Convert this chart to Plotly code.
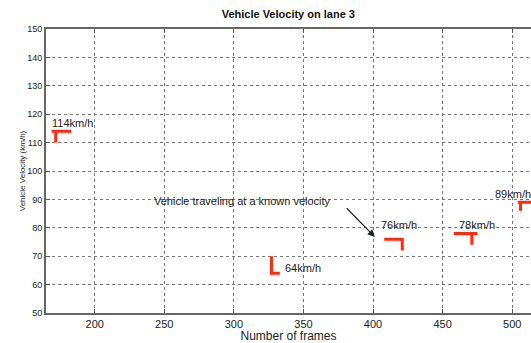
import plotly.graph_objects as go

# Data: frame numbers and measured velocity (km/h) for each detected vehicle
seg1_frames = [169, 172, 172, 172, 183]
seg1_vel = [114, 114, 110, 114, 114]
seg2_frames = [327, 327, 333]
seg2_vel = [70, 64, 64]
seg3_frames = [408, 421, 421]
seg3_vel = [76, 76, 72]
seg4_frames = [458, 471, 471, 471, 475]
seg4_vel = [78, 78, 74, 78, 78]
seg5_frames = [504, 506, 506, 506, 514]
seg5_vel = [89, 89, 86, 89, 89]

label_texts = ["114km/h", "64km/h", "76km/h", "78km/h", "89km/h"]
label_frames = [168, 335.5, 404, 460, 486]
label_vel = [116.8, 65.7, 80.9, 81.1, 92]

x_ticks = [200, 250, 300, 350, 400, 450, 500]
y_ticks = [50, 60, 70, 80, 90, 100, 110, 120, 130, 140, 150]

FONT = "Liberation Sans, Arial, sans-serif"
RED = "#ff2a10"

fig = go.Figure()
for fr, v in [(seg1_frames, seg1_vel), (seg2_frames, seg2_vel), (seg3_frames, seg3_vel),
              (seg4_frames, seg4_vel), (seg5_frames, seg5_vel)]:
    fig.add_trace(go.Scatter(x=fr, y=v, mode="lines",
                             line=dict(color=RED, width=3), showlegend=False,
                             hoverinfo="skip", cliponaxis=True))

for t, xf, yv in zip(label_texts, label_frames, label_vel):
    fig.add_annotation(x=xf, y=yv, text=t, showarrow=False, xanchor="left",
                       yanchor="middle", font=dict(family=FONT, size=11, color="#222"))

fig.add_annotation(x=306.5, y=89.3, text="Vehicle traveling at a known velocity",
                   showarrow=False, xanchor="center", yanchor="middle",
                   font=dict(family=FONT, size=11, color="#222"))
fig.add_annotation(x=401.3, y=76.8, ax=380, ay=87.4, axref="x", ayref="y",
                   text="", showarrow=True, arrowhead=2, arrowsize=1.2,
                   arrowwidth=1.2, arrowcolor="#222")

fig.update_layout(
    width=531, height=343,
    margin=dict(l=46, r=0, t=29, b=30, autoexpand=False),
    paper_bgcolor="white", plot_bgcolor="white",
    title=dict(text="<b>Vehicle Velocity on lane 3</b>", x=0.543,
               xanchor="center", y=1 - 14 / 343, yref="container", yanchor="middle",
               font=dict(family=FONT, size=11, color="#111")),
    font=dict(family=FONT, color="#222"),
)
fig.update_xaxes(range=[165, 513.5], tickvals=x_ticks, ticks="inside", ticklen=4,
                 tickcolor="#555", showline=True, linecolor="#666", linewidth=2,
                 mirror="ticks", showgrid=True, gridcolor="#777", griddash="dot",
                 gridwidth=1, zeroline=False, tickfont=dict(size=11, color="#222"),
                 automargin=False,
                 title=dict(text="Number of frames", font=dict(size=12, color="#222"),
                            standoff=0))
fig.update_yaxes(range=[50, 150], tickvals=y_ticks, ticks="inside", ticklen=4,
                 tickcolor="#555", showline=True, linecolor="#666", linewidth=2,
                 mirror=False, showgrid=True, gridcolor="#777", griddash="dot",
                 gridwidth=1, zeroline=False, tickfont=dict(size=9, color="#222"),
                 automargin=False,
                 title=dict(text="Vehicle Velocity (km/h)", font=dict(size=8, color="#222"),
                            standoff=0))

fig.write_html("out.html", config={"displayModeBar": False},
               post_script="document.body.style.margin='0';document.body.style.overflow='hidden';")
